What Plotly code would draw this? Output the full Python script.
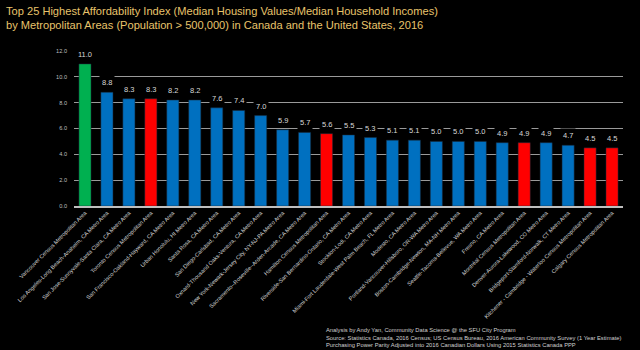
import plotly.graph_objects as go

categories = [
    "Vancouver Census Metropolitan Area",
    "Los Angeles-Long Beach-Anaheim, CA Metro Area",
    "San Jose-Sunnyvale-Santa Clara, CA Metro Area",
    "Toronto Census Metropolitan Area",
    "San Francisco-Oakland-Hayward, CA Metro Area",
    "Urban Honolulu, HI Metro Area",
    "Santa Rosa, CA Metro Area",
    "San Diego-Carlsbad, CA Metro Area",
    "Oxnard-Thousand Oaks-Ventura, CA Metro Area",
    "New York-Newark-Jersey City, NY-NJ-PA Metro Area",
    "Sacramento--Roseville--Arden-Arcade, CA Metro Area",
    "Hamilton Census Metropolitan Area",
    "Riverside-San Bernardino-Ontario, CA Metro Area",
    "Stockton-Lodi, CA Metro Area",
    "Miami-Fort Lauderdale-West Palm Beach, FL Metro Area",
    "Modesto, CA Metro Area",
    "Portland-Vancouver-Hillsboro, OR-WA Metro Area",
    "Boston-Cambridge-Newton, MA-NH Metro Area",
    "Seattle-Tacoma-Bellevue, WA Metro Area",
    "Fresno, CA Metro Area",
    "Montréal Census Metropolitan Area",
    "Denver-Aurora-Lakewood, CO Metro Area",
    "Bridgeport-Stamford-Norwalk, CT Metro Area",
    "Kitchener - Cambridge - Waterloo Census Metropolitan Area",
    "Calgary Census Metropolitan Area",
]
values = [11.0, 8.8, 8.3, 8.3, 8.2, 8.2, 7.6, 7.4, 7.0, 5.9, 5.7, 5.6, 5.5, 5.3,
          5.1, 5.1, 5.0, 5.0, 5.0, 4.9, 4.9, 4.9, 4.7, 4.5, 4.5]
groups = ["Vancouver", "US", "US", "Canada", "US", "US", "US", "US", "US", "US", "US",
          "Canada", "US", "US", "US", "US", "US", "US", "US", "US", "Canada", "US",
          "US", "Canada", "Canada"]
group_colors = {"Vancouver": "#00B050", "US": "#0070C0", "Canada": "#FF0000"}
y_ticks = [0, 2, 4, 6, 8, 10, 12]
title_lines = [
    "Top 25 Highest Affordability Index (Median Housing Values/Median Household Incomes)",
    "by Metropolitan Areas (Population > 500,000) in Canada and the United States, 2016",
]
footnote_lines = [
    "Analysis by Andy Yan, Community Data Science @ the SFU City Program",
    "Source: Statistics Canada, 2016 Census; US Census Bureau, 2016 American Community Survey (1 Year Estimate)",
    "Purchasing Power Parity Adjusted into 2016 Canadian Dollars Using 2015 Statistics Canada PPP",
]

W, H = 640, 350
ML, MR, MT, MB = 74, 17, 51, 144
PW, PH = W - ML - MR, H - MT - MB


def px_x(x):
    return (x - ML) / PW


def px_y(y):
    return (H - MB - y) / PH


fig = go.Figure()
fig.add_trace(go.Bar(
    x=categories, y=values,
    marker=dict(color=[group_colors[g] for g in groups],
                line=dict(color="#1a2a3a", width=0.5)),
    width=0.55,
    hoverinfo="x+y",
))

for c, v in zip(categories, values):
    fig.add_annotation(
        x=c, y=v, xref="x", yref="y", text=f"{v:.1f}", showarrow=False,
        yanchor="bottom", yshift=2, bgcolor="black", borderpad=2,
        font=dict(family="Liberation Sans, Arial", size=7.5, color="#d9d9d9"),
    )

for line, yc in zip(title_lines, [10.5, 25.5]):
    fig.add_annotation(
        xref="paper", yref="paper", x=px_x(4), y=px_y(yc),
        xanchor="left", yanchor="middle", showarrow=False, text=line,
        font=dict(family="Liberation Sans, Arial", size=11.1, color="#E8C46C"),
    )

fig.add_annotation(
    xref="paper", yref="paper", x=px_x(324), y=px_y(325),
    xanchor="left", yanchor="top", align="left", showarrow=False,
    text="<br>".join(footnote_lines),
    font=dict(family="Liberation Sans, Arial", size=5.8, color="#d0d0d0"),
)

fig.update_layout(
    width=W, height=H,
    margin=dict(l=ML, r=MR, t=MT, b=MB, pad=0),
    paper_bgcolor="black", plot_bgcolor="black",
    showlegend=False,
    bargap=0.45,
    xaxis=dict(
        tickangle=-45, tickfont=dict(family="Liberation Sans, Arial", size=5.6, color="#d9d9d9"),
        showline=True, linecolor="#bfbfbf", linewidth=1.5, showgrid=False, ticks="",
    ),
    yaxis=dict(
        range=[0, 12], tickvals=y_ticks, tickformat=".1f",
        tickfont=dict(family="Liberation Sans, Arial", size=5.6, color="#bfbfbf"),
        showgrid=True, gridcolor="#9a9a9a", gridwidth=1.2, zeroline=False,
        showline=False, ticks="", ticklabelstandoff=6,
    ),
)

fig.write_html("out.html")
